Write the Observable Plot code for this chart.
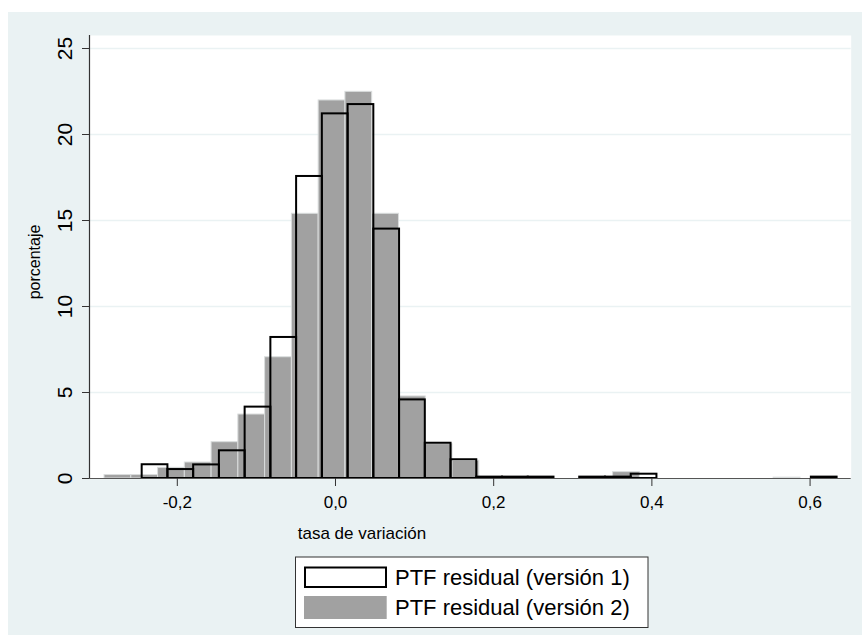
<!DOCTYPE html>
<html>
<head>
<meta charset="utf-8">
<script src="https://cdn.jsdelivr.net/npm/d3@7"></script>
<script src="https://cdn.jsdelivr.net/npm/@observablehq/plot@0.6"></script>
<style>
  html, body { margin: 0; padding: 0; background: white; }
  #wrap { position: relative; width: 862px; height: 635px; background: white; overflow: hidden; }
  #bg { position: absolute; left: 8px; top: 12px; right: 0; bottom: 0; background: #eaf2f3; }
  #chart { position: absolute; left: 0; top: 0; }
</style>
</head>
<body>
<div id="wrap"><div id="bg"></div><div id="chart"></div></div>
<script>
// Version 1 histogram (black outline): bin start, bin width, percentages
const v1Start = -0.2444;
const v1Width = 0.03254;
const v1Values = [0.80, 0.52, 0.79, 1.61, 4.15, 8.2, 17.56, 21.2, 21.74, 14.5, 4.57, 2.05, 1.09,
                  0.08, 0.08, 0.08, 0, 0.08, 0.08, 0.25, 0, 0, 0, 0, 0, 0, 0.08];
// Version 2 histogram (gray fill)
const v2Start = -0.2920;
const v2Width = 0.03384;
const v2Values = [0.2, 0.2, 0.62, 0.93, 2.11, 3.72, 7.05, 15.39, 21.98, 22.48, 15.39, 4.77, 2.0, 1.03,
                  0.05, 0.05, 0, 0, 0.05, 0.37, 0, 0, 0, 0, 0, 0.05];
const xTicks = [-0.2, 0, 0.2, 0.4, 0.6];
const yTicks = [0, 5, 10, 15, 20, 25];
const seriesNames = ["PTF residual (versión 1)", "PTF residual (versión 2)"];
const xTitle = "tasa de variación";
const yTitle = "porcentaje";

const v1 = v1Values.map((y, i) => ({x1: v1Start + i * v1Width, x2: v1Start + (i + 1) * v1Width, y})).filter(d => d.y > 0);
const v2 = v2Values.map((y, i) => ({x1: v2Start + i * v2Width, x2: v2Start + (i + 1) * v2Width, y})).filter(d => d.y > 0);

const font = "Arial, 'Liberation Sans', Helvetica, sans-serif";
const xDomain = [-0.311, 0.652];

const svg = Plot.plot({
  width: 862,
  height: 635,
  marginLeft: 89,
  marginRight: 11.3,
  marginTop: 35,
  marginBottom: 157,
  style: {background: "transparent", fontFamily: font, color: "#000", overflow: "visible"},
  x: {domain: xDomain},
  y: {domain: [0, 25.756]},
  marks: [
    Plot.frame({fill: "white", stroke: "none"}),
    Plot.gridY(yTicks.filter(d => d > 0), {stroke: "#eaf2f3", strokeOpacity: 1, strokeWidth: 1.6}),
    Plot.rectY(v2, {x1: "x1", x2: "x2", y: "y", fill: "#a1a1a1", stroke: "#dadddd", strokeWidth: 1}),
    Plot.rectY(v1, {x1: "x1", x2: "x2", y: "y", fill: "none", stroke: "#000", strokeWidth: 2}),
    Plot.ruleY([0], {stroke: "#555", strokeWidth: 1.2}),
    Plot.ruleX([xDomain[0]], {stroke: "#333", strokeWidth: 1.2}),
    Plot.axisY(yTicks, {tickRotate: -90, tickSize: 7, tickPadding: 11, fontSize: 21, label: null, stroke: "#333"}),
    Plot.axisX(xTicks, {tickSize: 8, tickPadding: 9, fontSize: 17, label: null, stroke: "#333",
      tickFormat: d => d.toFixed(1).replace(".", ",")})
  ]
});
document.getElementById("chart").appendChild(svg);

const s = d3.select(svg);
// axis titles
s.append("text").attr("x", 362).attr("y", 539).attr("text-anchor", "middle")
  .attr("font-family", font).attr("font-size", 17).attr("fill", "#000").text(xTitle);
s.append("text").attr("transform", "translate(40,262) rotate(-90)").attr("text-anchor", "middle")
  .attr("font-family", font).attr("font-size", 16).attr("fill", "#000").text(yTitle);

// legend
const lg = s.append("g");
lg.append("rect").attr("x", 295.5).attr("y", 557).attr("width", 352.5).attr("height", 70.5)
  .attr("fill", "white").attr("stroke", "#333").attr("stroke-width", 1);
lg.append("rect").attr("x", 305).attr("y", 567.5).attr("width", 81).attr("height", 19.5)
  .attr("fill", "white").attr("stroke", "#000").attr("stroke-width", 2);
lg.append("rect").attr("x", 304).attr("y", 596).attr("width", 82.7).attr("height", 23)
  .attr("fill", "#a1a1a1");
lg.append("text").attr("x", 395).attr("y", 585).attr("text-anchor", "start").attr("font-family", font).attr("font-size", 22)
  .attr("fill", "#000").text(seriesNames[0]);
lg.append("text").attr("x", 395).attr("y", 615).attr("text-anchor", "start").attr("font-family", font).attr("font-size", 22)
  .attr("fill", "#000").text(seriesNames[1]);
</script>
</body>
</html>
